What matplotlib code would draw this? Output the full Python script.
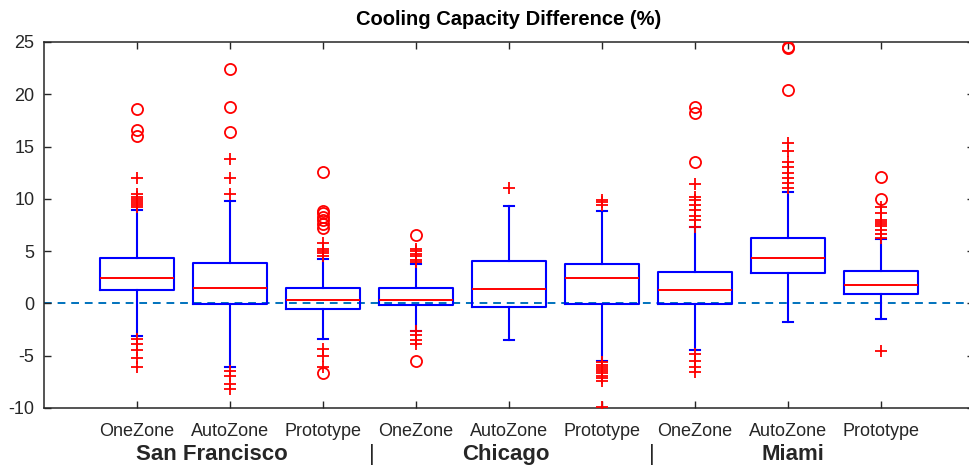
import matplotlib
matplotlib.use("Agg")
import matplotlib.pyplot as plt

plt.rcParams['font.family'] = ['Liberation Sans', 'DejaVu Sans']
plt.rcParams['axes.unicode_minus'] = False

# box tick labels, one per box
labels = ['OneZone', 'AutoZone', 'Prototype'] * 3
cities = ['San Francisco', 'Chicago', 'Miami']

# box statistics
q1 = [1.25, -0.1, -0.54, -0.19, -0.35, -0.03, -0.03, 2.94, 0.9]
med = [2.46, 1.44, 0.29, 0.29, 1.37, 2.4, 1.25, 4.35, 1.79]
q3 = [4.35, 3.9, 1.44, 1.44, 4.09, 3.74, 2.97, 6.23, 3.07]
whis_lo = [-3.13, -6.1, -3.39, -2.6, -3.45, -5.53, -4.41, -1.73, -1.47]
whis_hi = [8.9, 9.8, 4.28, 3.8, 9.33, 8.85, 7.3, 10.67, 6.2]

# outliers drawn as '+'
plus_pts = [
    [9.2, 9.4, 9.6, 9.8, 10.0, 10.2, 10.5, 12.0, -3.4, -3.9, -4.5, -5.2, -6.1],
    [10.45, 11.95, 13.84, -6.5, -6.9, -7.7, -8.2],
    [4.5, 4.8, 5.0, 5.2, 5.8, -4.35, -5.0, -6.1],
    [4.0, 4.2, 4.5, 4.7, 5.0, 5.2, -2.6, -3.0, -3.5, -3.9],
    [11.06],
    [9.4, 9.7, 9.9, -5.6, -5.9, -6.1, -6.3, -6.5, -6.7, -6.9, -7.1, -7.4, -9.94],
    [7.3, 7.96, 8.4, 8.9, 9.4, 9.9, 10.2, 11.4, -4.8, -5.5, -6.1, -6.6],
    [11.0, 11.5, 12.0, 12.5, 13.0, 13.5, 14.6, 15.3],
    [6.3, 6.6, 7.0, 7.4, 7.6, 7.8, 8.0, 8.6, 9.2, -4.57],
]
# outliers drawn as 'o'
circ_pts = [
    [16.0, 16.6, 18.6],
    [16.36, 18.82, 22.4],
    [7.2, 7.6, 8.0, 8.3, 8.6, 8.8, 12.6, -6.68],
    [6.55, -5.5],
    [],
    [],
    [13.5, 18.25, 18.8],
    [20.4, 24.4, 24.5],
    [10.0, 12.1],
]

W, H = 970, 472
fig = plt.figure(figsize=(W / 100, H / 100), dpi=100)
ax = fig.add_axes([44 / W, 1 - 408 / H, 930 / W, 366 / H])

pos = list(range(1, 10))
stats = []
for i in range(9):
    stats.append(dict(med=med[i], q1=q1[i], q3=q3[i],
                      whislo=whis_lo[i], whishi=whis_hi[i], fliers=[]))

ax.axhline(0, color='#0072BD', ls=(0, (4, 3)), lw=1.4, zorder=1)

ax.bxp(stats, positions=pos, widths=0.8, capwidths=0.1, showfliers=False,
       boxprops=dict(color='blue', lw=1.5),
       whiskerprops=dict(color='blue', lw=1.5, ls='-'),
       capprops=dict(color='blue', lw=1.5),
       medianprops=dict(color='red', lw=1.4), zorder=2)

for p, pts in zip(pos, plus_pts):
    ax.plot([p] * len(pts), pts, '+', color='red', ms=9, mew=1.3, zorder=3)
for p, pts in zip(pos, circ_pts):
    ax.plot([p] * len(pts), pts, 'o', mfc='none', mec='red', ms=8, mew=1.3, zorder=3)

ax.set_xlim(0, 10)
ax.set_ylim(-10, 25)
ax.set_xticks(pos)
ax.set_xticklabels(labels)
ax.set_yticks(range(-10, 30, 5))
ax.tick_params(direction='in', top=True, right=True, length=5, width=1,
               labelsize=13, colors='0.15')
ax.tick_params(axis='x', pad=11)
ax.tick_params(axis='y', pad=7)
for s in ax.spines.values():
    s.set_color('0.15')
    s.set_linewidth(1.1)

ax.set_title('Cooling Capacity Difference (%)', fontsize=14.5, fontweight='bold', pad=12)

tr = ax.get_xaxis_transform()
for x, name in zip([1.8, 4.97, 8.05], cities):
    ax.text(x, -0.128, name, transform=tr, ha='center', va='center',
            fontsize=16, fontweight='bold', color='0.15')
for x in [3.53, 6.54]:
    ax.text(x, -0.128, '|', transform=tr, ha='center', va='center',
            fontsize=16, color='0.15')

fig.savefig('out.png', dpi=100)
